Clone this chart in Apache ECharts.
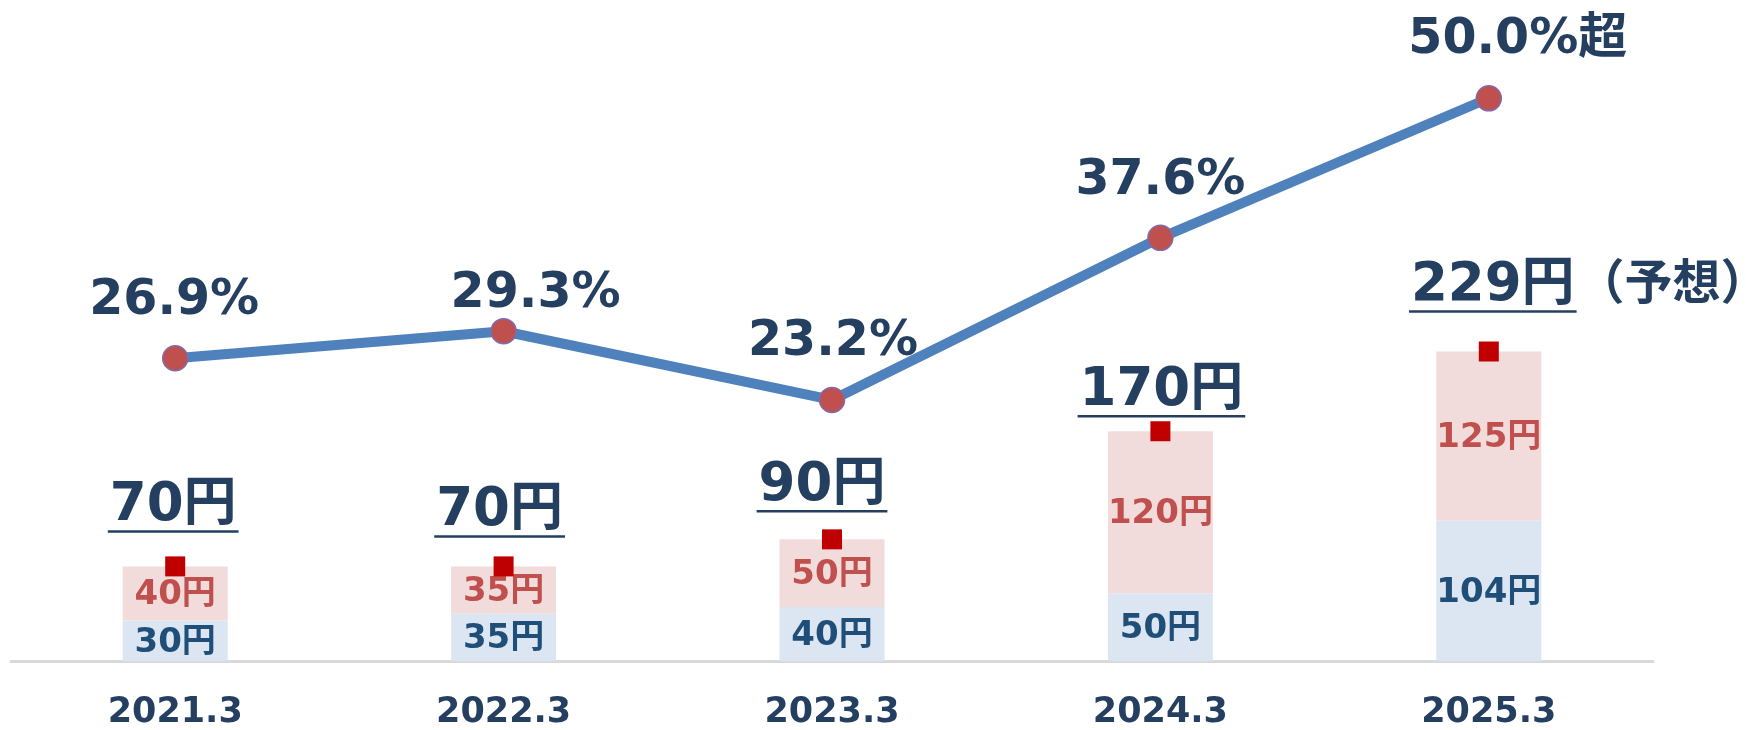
<!DOCTYPE html>
<html>
<head>
<meta charset="utf-8">
<script src="https://cdn.jsdelivr.net/npm/echarts@6/dist/echarts.min.js"></script>
<style>
  html, body { margin: 0; padding: 0; background: #fff; }
  #chart { width: 1746px; height: 730px; }
</style>
</head>
<body>
<div id="chart"></div>
<script>
const years = ['2021.3', '2022.3', '2023.3', '2024.3', '2025.3']
const baseDiv = [30, 35, 40, 50, 104]
const extraDiv = [40, 35, 50, 120, 125]
const totalDiv = [70, 70, 90, 170, 229]
const totalSuffix = ['', '', '', '', '（予想）']
const payoutRatio = [26.9, 29.3, 23.2, 37.6, 50.0]
const ratioSuffix = ['', '', '', '', '超']

// label placement tweaks (px), kept apart from the data
const ratioOffsets = [[-1, -57], [32, -37], [1, -58], [0, -57], [29, -58]]
const totalOffsets = [[-2, -35], [-4, -30], [-10, -28], [1, -15], [4, -40]]

const navy = '#243F60'
const family = '"DejaVu Sans", "Noto Sans CJK JP", sans-serif'
const bigFont = `bold 53px ${family}`
const suffixFont = `bold 48px ${family}`

const ctx = document.createElement('canvas').getContext('2d')
function textWidth(text, font) {
  ctx.font = font
  return ctx.measureText(text).width
}

const chart = echarts.init(document.getElementById('chart'))

const option = {
  backgroundColor: '#fff',
  animation: false,
  grid: { left: 11, right: 93, top: 42, bottom: 68 },
  xAxis: {
    type: 'category',
    data: years,
    axisTick: { show: false },
    axisLine: { lineStyle: { color: '#D9D9D9', width: 3 } },
    axisLabel: { color: navy, fontSize: 35, fontWeight: 'bold', fontFamily: family, margin: 34 },
  },
  yAxis: [
    { type: 'value', min: 0, max: 458, show: false, splitLine: { show: false } },
    { type: 'value', min: 0, max: 55, show: false, splitLine: { show: false } },
  ],
  series: [
    {
      name: 'base',
      type: 'bar',
      stack: 'div',
      barWidth: 105,
      itemStyle: { color: '#DCE6F2' },
      label: {
        show: true,
        position: 'inside',
        offset: [0, 2],
        formatter: p => p.value + '円',
        color: '#1F4E79',
        fontSize: 34,
        fontWeight: 'bold',
        fontFamily: family,
      },
      data: baseDiv,
    },
    {
      name: 'extra',
      type: 'bar',
      stack: 'div',
      barWidth: 105,
      itemStyle: { color: '#F2DCDB' },
      label: {
        show: true,
        position: 'inside',
        offset: [0, 2],
        formatter: p => p.value + '円',
        color: '#C0504D',
        fontSize: 34,
        fontWeight: 'bold',
        fontFamily: family,
      },
      data: extraDiv,
    },
    {
      name: 'total',
      type: 'scatter',
      symbol: 'rect',
      symbolSize: 20,
      itemStyle: { color: '#C00000', opacity: 1 },
      z: 3,
      data: totalDiv,
    },
    {
      name: 'payout',
      type: 'line',
      yAxisIndex: 1,
      symbol: 'circle',
      symbolSize: 25,
      lineStyle: { color: '#4F81BD', width: 10 },
      itemStyle: { color: '#C0504D', borderColor: '#7F6BAF', borderWidth: 1.5 },
      z: 4,
      label: {
        show: true,
        position: 'inside',
        color: navy,
        fontSize: 49,
        fontWeight: 'bold',
        fontFamily: family,
        formatter: p => p.value.toFixed(1) + '%' + ratioSuffix[p.dataIndex],
      },
      data: payoutRatio.map((v, i) => ({ value: v, label: { offset: ratioOffsets[i] } })),
    },
    {
      name: 'totalLabel',
      type: 'custom',
      z: 5,
      renderItem: (params, api) => {
        const i = params.dataIndex
        const pt = api.coord([i, api.value(1)])
        const x = pt[0] + totalOffsets[i][0]
        const lineY = pt[1] + totalOffsets[i][1]
        const main = totalDiv[i] + '円'
        const w = textWidth(main, bigFont)
        const textY = lineY - 25
        const children = [
          {
            type: 'text',
            style: {
              text: main, x: x, y: textY, fill: navy, font: bigFont,
              align: 'center', verticalAlign: 'middle',
              textAlign: 'center', textVerticalAlign: 'middle',
            },
          },
          {
            type: 'line',
            shape: { x1: x - w / 2 - 2, y1: lineY, x2: x + w / 2 + 2, y2: lineY },
            style: { stroke: navy, lineWidth: 2.5 },
          },
        ]
        if (totalSuffix[i]) {
          children.push({
            type: 'text',
            style: {
              text: totalSuffix[i], x: x + w / 2 + 2, y: textY, fill: navy, font: suffixFont,
              align: 'left', verticalAlign: 'middle',
              textAlign: 'left', textVerticalAlign: 'middle',
            },
          })
        }
        return { type: 'group', children }
      },
      data: totalDiv.map((v, i) => [i, v]),
    },
  ],
}

chart.setOption(option)
</script>
</body>
</html>
